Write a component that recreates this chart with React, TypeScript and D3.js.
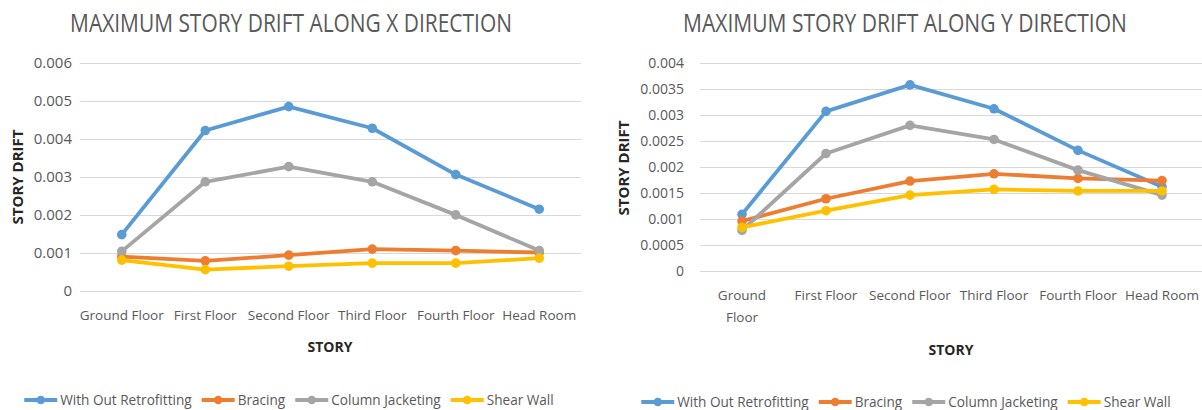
import React, { useEffect, useRef } from "react";
import * as d3 from "d3";

// Story levels along the building height
const stories = ["Ground Floor", "First Floor", "Second Floor", "Third Floor", "Fourth Floor", "Head Room"];

// Retrofitting schemes compared in both directions
const seriesNames = ["With Out Retrofitting", "Bracing", "Column Jacketing", "Shear Wall"];
const seriesColors = ["#5B9BD5", "#ED7D31", "#A5A5A5", "#FFC000"];

// Maximum story drift along X direction
const driftXWithOut = [0.00147, 0.00421, 0.00484, 0.00427, 0.00305, 0.00214];
const driftXBracing = [0.00089, 0.00078, 0.00093, 0.00109, 0.00105, 0.001];
const driftXColumn = [0.00103, 0.00286, 0.00326, 0.00286, 0.00199, 0.00105];
const driftXShear = [0.0008, 0.00055, 0.00064, 0.00072, 0.00072, 0.00085];

// Maximum story drift along Y direction
const driftYWithOut = [0.00108, 0.00306, 0.00357, 0.00311, 0.00231, 0.00161];
const driftYBracing = [0.00095, 0.00138, 0.00172, 0.00186, 0.00177, 0.00173];
const driftYColumn = [0.00077, 0.00225, 0.00279, 0.00252, 0.00193, 0.00145];
const driftYShear = [0.00083, 0.00115, 0.00145, 0.00156, 0.00153, 0.00153];

// Axis ticks
const ticksX = [0, 0.001, 0.002, 0.003, 0.004, 0.005, 0.006];
const ticksY = [0, 0.0005, 0.001, 0.0015, 0.002, 0.0025, 0.003, 0.0035, 0.004];

const FONT = "'Open Sans', 'Liberation Sans', Arial, sans-serif";
const TEXT = "#595959";

type Panel = {
  title: string;
  titleX: number;
  titleWidth: number;
  left: number;
  right: number;
  top: number;
  bottom: number;
  ticks: number[];
  series: number[][];
  tickRight: number;
  tickSize: number;
  labelY: number;
  wrapFirst: boolean;
  yTitleX: number;
  yTitleY: number;
  xTitleX: number;
  xTitleY: number;
  legendCenter: number;
  legendY: number;
};

function drawPanel(svg: d3.Selection<SVGSVGElement, unknown, null, undefined>, p: Panel) {
  const g = svg.append("g");
  const x = d3.scaleBand<string>().domain(stories).range([p.left, p.right]);
  const cx = (s: string) => (x(s) as number) + x.bandwidth() / 2;
  const y = d3.scaleLinear().domain([0, d3.max(p.ticks) as number]).range([p.bottom, p.top]);

  // title: tall narrow lettering, squeezed horizontally to the chart's title width
  const tg = g.append("g");
  const title = tg
    .append("text")
    .attr("x", 0)
    .attr("y", 0)
    .attr("text-anchor", "middle")
    .attr("font-family", FONT)
    .attr("font-size", 26)
    .attr("fill", TEXT)
    .text(p.title);
  const natural = (title.node() as SVGTextElement).getComputedTextLength();
  tg.attr("transform", `translate(${p.titleX},32) scale(${p.titleWidth / natural},1)`);

  // gridlines
  g.selectAll("line.grid")
    .data(p.ticks)
    .join("line")
    .attr("x1", p.left)
    .attr("x2", p.right)
    .attr("y1", (d) => Math.round(y(d)) + 0.5)
    .attr("y2", (d) => Math.round(y(d)) + 0.5)
    .attr("stroke", "#D9D9D9")
    .attr("stroke-width", 1.2);

  // tick labels
  g.selectAll("text.tick")
    .data(p.ticks)
    .join("text")
    .attr("x", p.tickRight)
    .attr("y", (d) => y(d))
    .attr("dy", "0.36em")
    .attr("text-anchor", "end")
    .attr("font-family", FONT)
    .attr("font-size", p.tickSize)
    .attr("fill", TEXT)
    .text((d) => String(d));

  // category labels
  stories.forEach((s, i) => {
    const lines = p.wrapFirst && i === 0 ? s.split(" ") : [s];
    const tx = g
      .append("text")
      .attr("text-anchor", "middle")
      .attr("font-family", FONT)
      .attr("font-size", 13.5)
      .attr("fill", TEXT);
    lines.forEach((ln, j) => {
      tx.append("tspan").attr("x", cx(s)).attr("y", p.labelY + j * 22).text(ln);
    });
  });

  // axis titles
  g.append("text")
    .attr("transform", `translate(${p.yTitleX},${p.yTitleY}) rotate(-90)`)
    .attr("text-anchor", "middle")
    .attr("dy", "0.36em")
    .attr("font-family", FONT)
    .attr("font-weight", 700)
    .attr("font-size", 15)
    .attr("fill", "#262626")
    .text("STORY DRIFT");
  g.append("text")
    .attr("x", p.xTitleX)
    .attr("y", p.xTitleY)
    .attr("text-anchor", "middle")
    .attr("font-family", FONT)
    .attr("font-weight", 700)
    .attr("font-size", 14)
    .attr("fill", "#262626")
    .text("STORY");

  // series lines and markers
  const line = d3
    .line<number>()
    .x((_, i) => cx(stories[i]))
    .y((d) => y(d));
  p.series.forEach((vals, si) => {
    g.append("path")
      .datum(vals)
      .attr("d", line)
      .attr("fill", "none")
      .attr("stroke", seriesColors[si])
      .attr("stroke-width", 3.8)
      .attr("stroke-linejoin", "round");
    g.selectAll(null)
      .data(vals)
      .join("circle")
      .attr("cx", (_, i) => cx(stories[i]))
      .attr("cy", (d) => y(d))
      .attr("r", 4.8)
      .attr("fill", seriesColors[si]);
  });

  // legend, laid out from measured label widths
  const lg = g.append("g");
  const items = seriesNames.map((name, i) => {
    const it = lg.append("g");
    it.append("line")
      .attr("x1", 0)
      .attr("x2", 33)
      .attr("y1", 0)
      .attr("y2", 0)
      .attr("stroke", seriesColors[i])
      .attr("stroke-width", 3.8);
    it.append("circle").attr("cx", 16.5).attr("cy", 0).attr("r", 4.3).attr("fill", seriesColors[i]);
    const txt = it
      .append("text")
      .attr("x", 36)
      .attr("y", 0)
      .attr("dy", "0.36em")
      .attr("font-family", FONT)
      .attr("font-size", 13.6)
      .attr("fill", TEXT)
      .text(name);
    const w = (txt.node() as SVGTextElement).getComputedTextLength();
    return { it, w: 36 + w };
  });
  const gap = 10;
  const total = d3.sum(items, (d) => d.w) + gap * (items.length - 1);
  let pos = p.legendCenter - total / 2;
  items.forEach((d) => {
    d.it.attr("transform", `translate(${pos},${p.legendY})`);
    pos += d.w + gap;
  });
}

export default function App() {
  const ref = useRef<SVGSVGElement>(null);
  useEffect(() => {
    document.body.style.margin = "0";
    const svg = d3.select(ref.current as SVGSVGElement);
    svg.selectAll("*").remove();
    drawPanel(svg, {
      title: "MAXIMUM STORY DRIFT ALONG X DIRECTION",
      titleX: 291,
      titleWidth: 442,
      left: 80,
      right: 581,
      top: 62.5,
      bottom: 290.5,
      ticks: ticksX,
      series: [driftXWithOut, driftXBracing, driftXColumn, driftXShear],
      tickRight: 72,
      tickSize: 15,
      labelY: 320,
      wrapFirst: false,
      yTitleX: 18,
      yTitleY: 177,
      xTitleX: 330,
      xTitleY: 352,
      legendCenter: 289,
      legendY: 400,
    });
    drawPanel(svg, {
      title: "MAXIMUM STORY DRIFT ALONG Y DIRECTION",
      titleX: 905,
      titleWidth: 444,
      left: 700,
      right: 1204,
      top: 62.5,
      bottom: 270.5,
      ticks: ticksY,
      series: [driftYWithOut, driftYBracing, driftYColumn, driftYShear],
      tickRight: 684,
      tickSize: 14,
      labelY: 300,
      wrapFirst: true,
      yTitleX: 624,
      yTitleY: 168,
      xTitleX: 951,
      xTitleY: 355,
      legendCenter: 906,
      legendY: 402,
    });
  }, []);
  return (
    <svg
      ref={ref}
      width={1202}
      height={410}
      style={{ position: "absolute", left: 0, top: 0, background: "#fff" }}
    />
  );
}
